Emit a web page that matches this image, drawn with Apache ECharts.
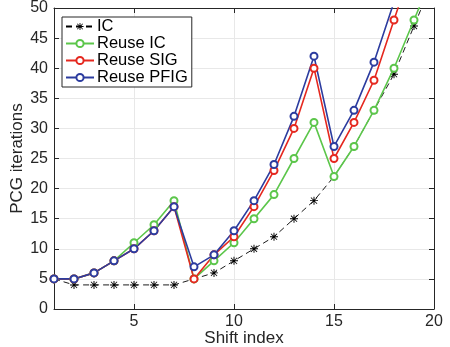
<!DOCTYPE html>
<html>
<head>
<meta charset="utf-8">
<script src="https://cdn.jsdelivr.net/npm/echarts@6/dist/echarts.min.js"></script>
<style>
  html, body { margin: 0; padding: 0; background: #fff; }
  #chart { width: 450px; height: 347px; }
</style>
</head>
<body>
<div id="chart"></div>
<script>
// Shift indices 1..20
const shifts = [1, 2, 3, 4, 5, 6, 7, 8, 9, 10, 11, 12, 13, 14, 15, 16, 17, 18, 19, 20];

// PCG iteration counts per shift
const icIters        = [5, 4, 4, 4, 4, 4, 4, 5, 6, 8, 10, 12, 15, 18, 22, 27, 33, 39, 47, 55];
const reuseIcIters   = [5, 5, 6, 8, 11, 14, 18, 5, 8, 11, 15, 19, 25, 31, 22, 27, 33, 40, 48, 56];
const reuseSigIters  = [5, 5, 6, 8, 10, 13, 17, 5, 9, 12, 17, 23, 30, 40, 25, 31, 38, 48, 58, 68];
const reusePfigIters = [5, 5, 6, 8, 10, 13, 17, 7, 9, 13, 18, 24, 32, 42, 27, 33, 41, 51, 61, 71];

const xTicks = [5, 10, 15, 20];

const seriesNames = ['IC', 'Reuse IC', 'Reuse SIG', 'Reuse PFIG'];

const pair = (ys) => shifts.map((x, i) => [x, ys[i]]);

// asterisk marker: vertical, horizontal and two diagonal strokes
const asterisk = 'path://M8.8 0H11.2V20H8.8Z M0 8.8H20V11.2H0Z M3 1.6L18.4 17L17 18.4L1.6 3Z M17 1.6L18.4 3L3 18.4L1.6 17Z';

const axisColor = '#262626';
const gridColor = '#e8e8e8';
const font = 'Liberation Sans, Arial, Helvetica, sans-serif';

const chart = echarts.init(document.getElementById('chart'), null, { renderer: 'canvas' });

const lineSeries = (name, ys, color) => ({
  name: name,
  type: 'line',
  data: pair(ys),
  symbol: 'emptyCircle',
  symbolSize: 7,
  lineStyle: { color: color, width: 1.6 },
  itemStyle: { color: color, borderColor: color, borderWidth: 1.5 },
  clip: true,
  z: 3
});

chart.setOption({
  animation: false,
  backgroundColor: '#fff',
  textStyle: { fontFamily: font },
  grid: { left: 54, right: 16, top: 8, bottom: 38, containLabel: false, outerBoundsMode: 'none' },
  legend: {
    orient: 'vertical',
    left: 62,
    top: 17,
    data: seriesNames,
    itemWidth: 28,
    itemHeight: 9,
    itemGap: 0,
    padding: [1, 4, 1, 3],
    backgroundColor: '#fff',
    borderColor: axisColor,
    borderWidth: 1,
    borderRadius: 0,
    textStyle: { fontFamily: font, fontSize: 16.5, color: '#000', lineHeight: 17, padding: [0, 0, 0, -2] }
  },
  xAxis: [
    {
      type: 'value',
      min: 1,
      max: 20,
      name: 'Shift index',
      nameLocation: 'middle',
      nameGap: 21,
      nameMoveOverlap: false,
      nameTextStyle: { fontFamily: font, fontSize: 17, color: axisColor },
      axisLine: { show: true, onZero: false, lineStyle: { color: axisColor, width: 1 } },
      axisTick: { show: true, inside: true, length: 5, customValues: xTicks, lineStyle: { color: axisColor } },
      axisLabel: { customValues: xTicks, fontFamily: font, fontSize: 16, color: axisColor, margin: 5 },
      splitLine: { show: true, lineStyle: { color: gridColor, width: 1 } }
    },
    {
      type: 'value',
      position: 'top',
      min: 1,
      max: 20,
      axisLine: { show: true, onZero: false, lineStyle: { color: axisColor, width: 1 } },
      axisTick: { show: true, inside: true, length: 5, customValues: xTicks, lineStyle: { color: axisColor } },
      axisLabel: { show: false },
      splitLine: { show: false }
    }
  ],
  yAxis: [
    {
      type: 'value',
      min: 0,
      max: 50,
      interval: 5,
      name: 'PCG iterations',
      nameLocation: 'middle',
      nameGap: 28,
      nameMoveOverlap: false,
      nameTextStyle: { fontFamily: font, fontSize: 17, color: axisColor },
      axisLine: { show: true, onZero: false, lineStyle: { color: axisColor, width: 1 } },
      axisTick: { show: true, inside: true, length: 5, lineStyle: { color: axisColor } },
      axisLabel: { fontFamily: font, fontSize: 16, color: axisColor, margin: 6 },
      splitLine: { show: true, lineStyle: { color: gridColor, width: 1 } }
    },
    {
      type: 'value',
      position: 'right',
      min: 0,
      max: 50,
      interval: 5,
      axisLine: { show: true, onZero: false, lineStyle: { color: axisColor, width: 1 } },
      axisTick: { show: true, inside: true, length: 5, lineStyle: { color: axisColor } },
      axisLabel: { show: false },
      splitLine: { show: false }
    }
  ],
  series: [
    {
      name: 'IC',
      type: 'line',
      data: pair(icIters),
      symbol: asterisk,
      symbolSize: 8,
      lineStyle: { color: '#000', width: 0.9, type: [6, 4] },
      itemStyle: { color: '#000' },
      clip: true,
      z: 2
    },
    lineSeries('Reuse IC', reuseIcIters, '#5cc64b'),
    lineSeries('Reuse SIG', reuseSigIters, '#e5281f'),
    lineSeries('Reuse PFIG', reusePfigIters, '#2c3c9f')
  ]
});
</script>
</body>
</html>
